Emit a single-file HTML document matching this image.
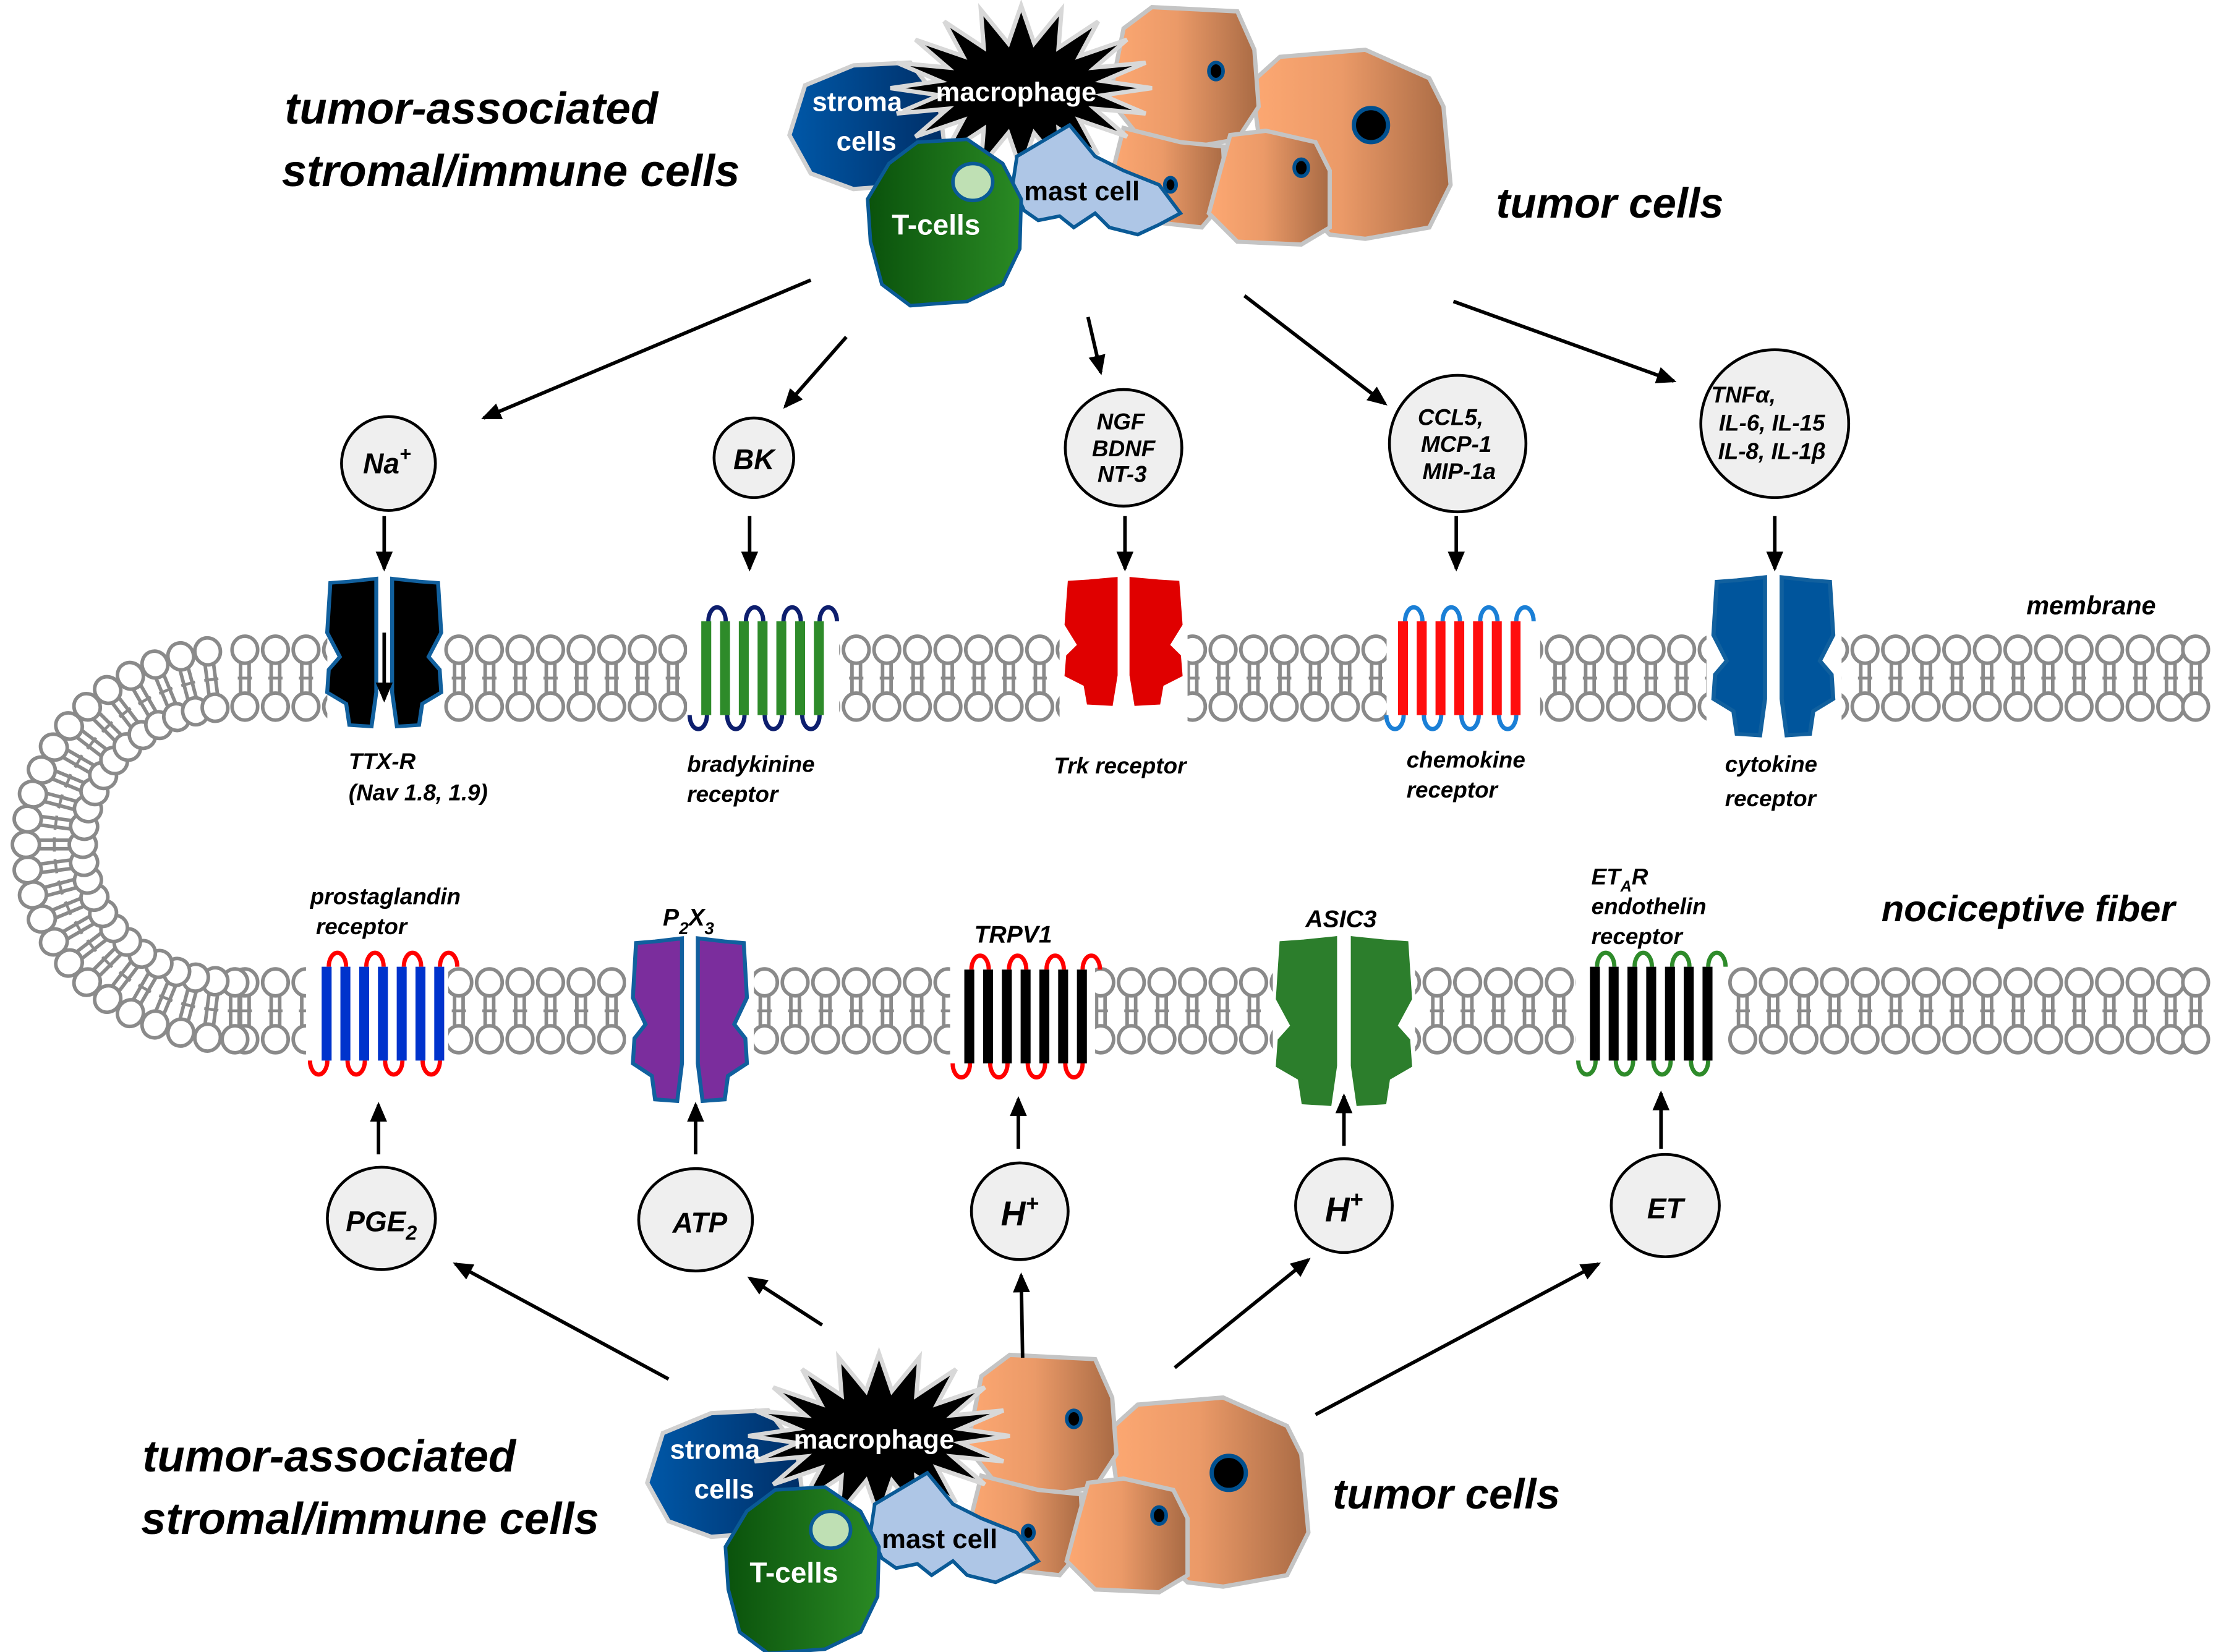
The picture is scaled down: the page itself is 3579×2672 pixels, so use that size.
<!DOCTYPE html>
<html><head><meta charset="utf-8">
<style>
html,body{margin:0;padding:0;background:#fff;}
svg{display:block;}
text{font-family:"Liberation Sans",sans-serif;}
.lab{font-weight:bold;font-style:italic;fill:#000;}
</style></head>
<body>
<svg width="3579" height="2672" viewBox="0 0 1556 1162" xmlns="http://www.w3.org/2000/svg">
<defs>
<linearGradient id="tum" x1="0" x2="1" y1="0" y2="0"><stop offset="0" stop-color="#fda872"/><stop offset="0.45" stop-color="#eb9a68"/><stop offset="1" stop-color="#a86a44"/></linearGradient>
<linearGradient id="str" x1="0" x2="1"><stop offset="0" stop-color="#0058a8"/><stop offset="1" stop-color="#002e66"/></linearGradient>
<linearGradient id="tc" x1="0" x2="1"><stop offset="0" stop-color="#0a520c"/><stop offset="1" stop-color="#2a8a24"/></linearGradient>
<marker id="ah2" markerWidth="14" markerHeight="12" refX="12" refY="6" orient="auto" markerUnits="userSpaceOnUse"><path d="M0,0 L14,6 L0,12 Z" fill="#000"/></marker>
<g id="lip" stroke="#8a8a8a" stroke-width="2.5" fill="#fff">
  <line x1="-3" y1="-11" x2="-3" y2="11"/><line x1="3" y1="-11" x2="3" y2="11"/>
  <line x1="-5" y1="0" x2="5" y2="0" stroke-width="2"/>
  <ellipse cx="0" cy="-20" rx="9" ry="9.5"/><ellipse cx="0" cy="20" rx="9" ry="9.5"/>
</g>
<path id="half" d="M-5,0 L-22,2 L-34,3 L-36,38 L-28,55 L-35,64 L-36,80 L-24,88 L-22,103 L-8,104 L-5,80 Z"/>
<g id="tmLoops" fill="none" stroke-width="3">
  <path d="M1,66 a6.1,9.8 0 0 1 -12.2,0"/><path d="M27.4,66 a6.1,9.8 0 0 1 -12.2,0"/>
  <path d="M53.8,66 a6.1,9.8 0 0 1 -12.2,0"/><path d="M80.2,66 a6.1,9.8 0 0 1 -12.2,0"/>
  <path d="M14.2,0 a6.1,9.8 0 0 0 -12.2,0"/><path d="M40.6,0 a6.1,9.8 0 0 0 -12.2,0"/>
  <path d="M67,0 a6.1,9.8 0 0 0 -12.2,0"/><path d="M80.2,0 a6.1,9.8 0 0 1 12.2,0"/>
</g>
<g id="tmBars">
  <rect x="-3" y="0" width="7" height="66"/><rect x="10.2" y="0" width="7" height="66"/>
  <rect x="23.4" y="0" width="7" height="66"/><rect x="36.6" y="0" width="7" height="66"/>
  <rect x="49.8" y="0" width="7" height="66"/><rect x="63" y="0" width="7" height="66"/>
  <rect x="76.2" y="0" width="7" height="66"/>
</g>
<g id="cluster">
  <path d="M880,58 L900,40 L960,35 L1005,55 L1015,75 L1020,130 L1005,160 L960,168 L935,165 L920,150 L900,120 L885,95 Z" fill="url(#tum)" stroke="#c4c4c4" stroke-width="3"/>
  <path d="M790,20 L810,5 L870,8 L882,35 L885,75 L870,98 L830,105 L800,95 L780,70 Z" fill="url(#tum)" stroke="#c4c4c4" stroke-width="3"/>
  <path d="M790,90 L830,100 L860,103 L862,140 L845,160 L800,155 L780,130 Z" fill="url(#tum)" stroke="#c4c4c4" stroke-width="3"/>
  <path d="M865,95 L890,92 L925,100 L935,120 L935,160 L915,172 L870,170 L850,150 L858,120 Z" fill="url(#tum)" stroke="#c4c4c4" stroke-width="3"/>
  <ellipse cx="964" cy="88" rx="12" ry="12" fill="#000" stroke="#00508f" stroke-width="3"/>
  <ellipse cx="855" cy="50" rx="5" ry="6" fill="#000" stroke="#00508f" stroke-width="2.5"/>
  <ellipse cx="915" cy="118" rx="5" ry="6" fill="#000" stroke="#00508f" stroke-width="2.5"/>
  <ellipse cx="823" cy="130" rx="4" ry="5" fill="#000" stroke="#00508f" stroke-width="2.5"/>
  <path d="M566,60 L600,46 L640,44 L660,70 L665,110 L640,130 L600,133 L570,122 L555,95 Z" fill="url(#str)" stroke="#d0d0d0" stroke-width="3"/>
  <polygon points="810,62 775.3,67 805.5,79.9 769.7,76.5 792.4,96.1 759,84.6 772.1,108.9 744.3,90.5 746.4,117.2 727.1,93.6 718,120 708.9,93.6 689.6,117.2 691.7,90.5 663.9,108.9 677,84.6 643.6,96.1 666.3,76.5 630.5,79.9 660.7,67 626,62 660.7,57 630.5,44.1 666.3,47.5 643.6,27.9 677,39.4 663.9,15.1 691.7,33.5 689.6,6.8 708.9,30.4 718,4 727.1,30.4 746.4,6.8 744.3,33.5 772.1,15.1 759,39.4 792.4,27.9 769.7,47.5 805.5,44.1 775.3,57" fill="#000" stroke="#d8d8d8" stroke-width="3"/>
  <path d="M752,88 L770,110 L790,120 L815,130 L830,150 L815,158 L800,165 L780,160 L770,150 L755,160 L745,152 L730,155 L720,148 L712,130 L715,110 Z" fill="#aec6e6" stroke="#0a5a96" stroke-width="2.5"/>
  <path d="M645,100 L680,98 L705,115 L718,140 L717,175 L705,200 L680,212 L640,215 L620,200 L612,170 L610,140 L625,115 Z" fill="url(#tc)" stroke="#0a5a96" stroke-width="2.5"/>
  <ellipse cx="684" cy="128" rx="14" ry="13" fill="#bfe0b4" stroke="#0a5a96" stroke-width="2.5"/>
  <text x="571" y="78" font-size="19" font-weight="bold" fill="#fff">stroma</text>
  <text x="588" y="106" font-size="19" font-weight="bold" fill="#fff">cells</text>
  <text x="658" y="71" font-size="19" font-weight="bold" fill="#fff">macrophage</text>
  <text x="720" y="141" font-size="19" font-weight="bold" fill="#000">mast cell</text>
  <text x="627" y="165" font-size="20" font-weight="bold" fill="#fff">T-cells</text>
</g>
</defs>

<!-- membrane straight bands -->
<g>
<use href="#lip" x="172" y="477"/><use href="#lip" x="193.5" y="477"/><use href="#lip" x="215" y="477"/><use href="#lip" x="236.5" y="477"/><use href="#lip" x="258" y="477"/><use href="#lip" x="279.5" y="477"/><use href="#lip" x="301" y="477"/><use href="#lip" x="322.5" y="477"/><use href="#lip" x="344" y="477"/><use href="#lip" x="365.5" y="477"/><use href="#lip" x="387" y="477"/><use href="#lip" x="408.5" y="477"/><use href="#lip" x="430" y="477"/><use href="#lip" x="451.5" y="477"/><use href="#lip" x="473" y="477"/><use href="#lip" x="494.5" y="477"/><use href="#lip" x="516" y="477"/><use href="#lip" x="537.5" y="477"/><use href="#lip" x="559" y="477"/><use href="#lip" x="580.5" y="477"/><use href="#lip" x="602" y="477"/><use href="#lip" x="623.5" y="477"/><use href="#lip" x="645" y="477"/><use href="#lip" x="666.5" y="477"/><use href="#lip" x="688" y="477"/><use href="#lip" x="709.5" y="477"/><use href="#lip" x="731" y="477"/><use href="#lip" x="752.5" y="477"/><use href="#lip" x="774" y="477"/><use href="#lip" x="795.5" y="477"/><use href="#lip" x="817" y="477"/><use href="#lip" x="838.5" y="477"/><use href="#lip" x="860" y="477"/><use href="#lip" x="881.5" y="477"/><use href="#lip" x="903" y="477"/><use href="#lip" x="924.5" y="477"/><use href="#lip" x="946" y="477"/><use href="#lip" x="967.5" y="477"/><use href="#lip" x="989" y="477"/><use href="#lip" x="1010.5" y="477"/><use href="#lip" x="1032" y="477"/><use href="#lip" x="1053.5" y="477"/><use href="#lip" x="1075" y="477"/><use href="#lip" x="1096.5" y="477"/><use href="#lip" x="1118" y="477"/><use href="#lip" x="1139.5" y="477"/><use href="#lip" x="1161" y="477"/><use href="#lip" x="1182.5" y="477"/><use href="#lip" x="1204" y="477"/><use href="#lip" x="1225.5" y="477"/><use href="#lip" x="1247" y="477"/><use href="#lip" x="1268.5" y="477"/><use href="#lip" x="1290" y="477"/><use href="#lip" x="1311.5" y="477"/><use href="#lip" x="1333" y="477"/><use href="#lip" x="1354.5" y="477"/><use href="#lip" x="1376" y="477"/><use href="#lip" x="1397.5" y="477"/><use href="#lip" x="1419" y="477"/><use href="#lip" x="1440.5" y="477"/><use href="#lip" x="1462" y="477"/><use href="#lip" x="1483.5" y="477"/><use href="#lip" x="1505" y="477"/><use href="#lip" x="1526.5" y="477"/><use href="#lip" x="1544" y="477"/>
<use href="#lip" x="172" y="711"/><use href="#lip" x="193.5" y="711"/><use href="#lip" x="215" y="711"/><use href="#lip" x="236.5" y="711"/><use href="#lip" x="258" y="711"/><use href="#lip" x="279.5" y="711"/><use href="#lip" x="301" y="711"/><use href="#lip" x="322.5" y="711"/><use href="#lip" x="344" y="711"/><use href="#lip" x="365.5" y="711"/><use href="#lip" x="387" y="711"/><use href="#lip" x="408.5" y="711"/><use href="#lip" x="430" y="711"/><use href="#lip" x="451.5" y="711"/><use href="#lip" x="473" y="711"/><use href="#lip" x="494.5" y="711"/><use href="#lip" x="516" y="711"/><use href="#lip" x="537.5" y="711"/><use href="#lip" x="559" y="711"/><use href="#lip" x="580.5" y="711"/><use href="#lip" x="602" y="711"/><use href="#lip" x="623.5" y="711"/><use href="#lip" x="645" y="711"/><use href="#lip" x="666.5" y="711"/><use href="#lip" x="688" y="711"/><use href="#lip" x="709.5" y="711"/><use href="#lip" x="731" y="711"/><use href="#lip" x="752.5" y="711"/><use href="#lip" x="774" y="711"/><use href="#lip" x="795.5" y="711"/><use href="#lip" x="817" y="711"/><use href="#lip" x="838.5" y="711"/><use href="#lip" x="860" y="711"/><use href="#lip" x="881.5" y="711"/><use href="#lip" x="903" y="711"/><use href="#lip" x="924.5" y="711"/><use href="#lip" x="946" y="711"/><use href="#lip" x="967.5" y="711"/><use href="#lip" x="989" y="711"/><use href="#lip" x="1010.5" y="711"/><use href="#lip" x="1032" y="711"/><use href="#lip" x="1053.5" y="711"/><use href="#lip" x="1075" y="711"/><use href="#lip" x="1096.5" y="711"/><use href="#lip" x="1118" y="711"/><use href="#lip" x="1139.5" y="711"/><use href="#lip" x="1161" y="711"/><use href="#lip" x="1182.5" y="711"/><use href="#lip" x="1204" y="711"/><use href="#lip" x="1225.5" y="711"/><use href="#lip" x="1247" y="711"/><use href="#lip" x="1268.5" y="711"/><use href="#lip" x="1290" y="711"/><use href="#lip" x="1311.5" y="711"/><use href="#lip" x="1333" y="711"/><use href="#lip" x="1354.5" y="711"/><use href="#lip" x="1376" y="711"/><use href="#lip" x="1397.5" y="711"/><use href="#lip" x="1419" y="711"/><use href="#lip" x="1440.5" y="711"/><use href="#lip" x="1462" y="711"/><use href="#lip" x="1483.5" y="711"/><use href="#lip" x="1505" y="711"/><use href="#lip" x="1526.5" y="711"/><use href="#lip" x="1544" y="711"/>
</g>
<!-- curved end -->
<g>
<use href="#lip" transform="translate(165,711) rotate(0)"/>
<use href="#lip" transform="translate(148.4,710) rotate(7.5)"/>
<use href="#lip" transform="translate(132.1,707) rotate(15)"/>
<use href="#lip" transform="translate(116.4,702.1) rotate(22.5)"/>
<use href="#lip" transform="translate(101.5,695.3) rotate(30)"/>
<use href="#lip" transform="translate(87.7,686.8) rotate(37.5)"/>
<use href="#lip" transform="translate(75.2,676.7) rotate(45)"/>
<use href="#lip" transform="translate(64.2,665.2) rotate(52.5)"/>
<use href="#lip" transform="translate(55,652.5) rotate(60)"/>
<use href="#lip" transform="translate(47.7,638.8) rotate(67.5)"/>
<use href="#lip" transform="translate(42.3,624.3) rotate(75)"/>
<use href="#lip" transform="translate(39.1,609.3) rotate(82.5)"/>
<use href="#lip" transform="translate(38,594) rotate(90)"/>
<use href="#lip" transform="translate(39.1,578.7) rotate(97.5)"/>
<use href="#lip" transform="translate(42.3,563.7) rotate(105)"/>
<use href="#lip" transform="translate(47.7,549.2) rotate(112.5)"/>
<use href="#lip" transform="translate(55,535.5) rotate(120)"/>
<use href="#lip" transform="translate(64.2,522.8) rotate(127.5)"/>
<use href="#lip" transform="translate(75.2,511.3) rotate(135)"/>
<use href="#lip" transform="translate(87.7,501.2) rotate(142.5)"/>
<use href="#lip" transform="translate(101.5,492.7) rotate(150)"/>
<use href="#lip" transform="translate(116.4,485.9) rotate(157.5)"/>
<use href="#lip" transform="translate(132.1,481) rotate(165)"/>
<use href="#lip" transform="translate(148.4,478) rotate(172.5)"/>
</g>
<!-- white masks behind receptors -->
<g fill="#fff">
<rect x="230" y="445" width="82" height="64"/><rect x="483" y="445" width="107" height="64"/><rect x="745" y="445" width="90" height="64"/><rect x="975" y="445" width="108" height="64"/><rect x="1200" y="445" width="95" height="64"/>
<rect x="215" y="679" width="100" height="64"/><rect x="440" y="679" width="90" height="64"/><rect x="668" y="679" width="102" height="64"/><rect x="895" y="679" width="100" height="64"/><rect x="1108" y="679" width="107" height="64"/>
</g>
<!-- channels -->
<g stroke="#11609e" stroke-width="2.5">
<g transform="translate(270,407)"><use href="#half" fill="#000" transform="scale(1.114,1)"/><use href="#half" fill="#000" transform="scale(-1.114,1)"/></g>
<g transform="translate(790,407)"><use href="#half" fill="#e00000" stroke="#e00000" transform="scale(1.114,0.85)"/><use href="#half" fill="#e00000" stroke="#e00000" transform="scale(-1.114,0.85)"/></g>
<g transform="translate(1247,406)"><use href="#half" fill="#00559c" transform="scale(1.17,1.07)"/><use href="#half" fill="#00559c" transform="scale(-1.17,1.07)"/></g>
<g transform="translate(485,660)"><use href="#half" fill="#7b2d9d" transform="scale(1.114,1.1)"/><use href="#half" fill="#7b2d9d" transform="scale(-1.114,1.1)"/></g>
<g transform="translate(945,660)"><use href="#half" fill="#2c7e2c" stroke="#2c7e2c" transform="scale(1.286,1.12)"/><use href="#half" fill="#2c7e2c" stroke="#2c7e2c" transform="scale(-1.286,1.12)"/></g>
</g>
<!-- 7TM receptors -->
<g transform="translate(496,437)"><use href="#tmLoops" stroke="#0d1e6e"/><use href="#tmBars" fill="#2e8b2a"/></g>
<g transform="translate(986,437)"><use href="#tmLoops" stroke="#1a7fd6"/><use href="#tmBars" fill="#ff0d0d"/></g>
<g transform="translate(229,680)"><use href="#tmLoops" stroke="#ff0000"/><use href="#tmBars" fill="#0033cc"/></g>
<g transform="translate(681,682)"><use href="#tmLoops" stroke="#ff0000"/><use href="#tmBars" fill="#000"/></g>
<g transform="translate(1121,680)"><use href="#tmLoops" stroke="#2e8b2a"/><use href="#tmBars" fill="#000"/></g>

<use href="#cluster"/>
<use href="#cluster" transform="translate(-100,948)"/>
<g>
<text x="200" y="87" font-size="31.5" class="lab">tumor-associated</text>
<text x="198" y="131" font-size="31.5" class="lab">stromal/immune cells</text>
<text x="1052" y="153" font-size="30" class="lab">tumor cells</text>
<text x="100" y="1035" font-size="31.5" class="lab">tumor-associated</text>
<text x="99" y="1079" font-size="31.5" class="lab">stromal/immune cells</text>
<text x="937" y="1061" font-size="30" class="lab">tumor cells</text>
<text x="1425" y="432" font-size="18" class="lab">membrane</text>
<text x="1323" y="648" font-size="26" class="lab">nociceptive fiber</text>
<text x="245" y="541" font-size="16" class="lab">TTX-R</text>
<text x="245" y="563" font-size="16" class="lab">(Nav 1.8, 1.9)</text>
<text x="483" y="543" font-size="16" class="lab">bradykinine</text>
<text x="483" y="564" font-size="16" class="lab">receptor</text>
<text x="741" y="544" font-size="16" class="lab">Trk receptor</text>
<text x="989" y="540" font-size="16" class="lab">chemokine</text>
<text x="989" y="561" font-size="16" class="lab">receptor</text>
<text x="1213" y="543" font-size="16" class="lab">cytokine</text>
<text x="1213" y="567" font-size="16" class="lab">receptor</text>
<text x="218" y="636" font-size="16" class="lab">prostaglandin</text>
<text x="222" y="657" font-size="16" class="lab">receptor</text>
<text x="466" y="651" font-size="17" class="lab">P<tspan font-size="12" dy="6">2</tspan><tspan dy="-6">X</tspan><tspan font-size="12" dy="6">3</tspan></text>
<text x="685" y="663" font-size="17" class="lab">TRPV1</text>
<text x="918" y="652" font-size="17" class="lab">ASIC3</text>
<text x="1119" y="622" font-size="16" class="lab">ET<tspan font-size="11" dy="5">A</tspan><tspan dy="-5">R</tspan></text>
<text x="1119" y="643" font-size="16" class="lab">endothelin</text>
<text x="1119" y="664" font-size="16" class="lab">receptor</text>
</g>
<g fill="#efefef" stroke="#000" stroke-width="2">
<circle cx="273" cy="326" r="33"/><circle cx="530" cy="322" r="28"/><circle cx="790" cy="315" r="41"/>
<circle cx="1025" cy="312" r="48"/><circle cx="1248" cy="298" r="52"/>
<ellipse cx="268" cy="857" rx="38" ry="36"/><ellipse cx="489" cy="858" rx="40" ry="36"/>
<ellipse cx="717" cy="852" rx="34" ry="34"/><ellipse cx="945" cy="848" rx="34" ry="33"/><ellipse cx="1171" cy="848" rx="38" ry="36"/>
</g>
<g text-anchor="middle">
<text x="272" y="333" font-size="20" class="lab">Na<tspan font-size="14" dy="-9">+</tspan></text>
<text x="530" y="330" font-size="20" class="lab">BK</text>
<text x="788" y="302" font-size="16" class="lab">NGF</text>
<text x="790" y="321" font-size="16" class="lab">BDNF</text>
<text x="789" y="339" font-size="16" class="lab">NT-3</text>
<text x="1020" y="299" font-size="16" class="lab">CCL5,</text>
<text x="1024" y="318" font-size="16" class="lab">MCP-1</text>
<text x="1026" y="337" font-size="16" class="lab">MIP-1a</text>
<text x="1226" y="283" font-size="16" class="lab">TNFα,</text>
<text x="1246" y="303" font-size="16" class="lab">IL-6, IL-15</text>
<text x="1246" y="323" font-size="16" class="lab">IL-8, IL-1β</text>
<text x="268" y="866" font-size="20" class="lab">PGE<tspan font-size="14" dy="6">2</tspan></text>
<text x="492" y="867" font-size="20" class="lab">ATP</text>
<text x="717" y="862" font-size="24" class="lab">H<tspan font-size="16" dy="-10">+</tspan></text>
<text x="945" y="859" font-size="24" class="lab">H<tspan font-size="16" dy="-10">+</tspan></text>
<text x="1171" y="857" font-size="20" class="lab">ET</text>
</g>
<g stroke="#000" stroke-width="2.5" fill="none">
<line x1="570" y1="197" x2="340" y2="294" marker-end="url(#ah2)"/>
<line x1="595" y1="237" x2="552" y2="286" marker-end="url(#ah2)"/>
<line x1="765" y1="223" x2="774" y2="262" marker-end="url(#ah2)"/>
<line x1="875" y1="208" x2="974" y2="284" marker-end="url(#ah2)"/>
<line x1="1022" y1="212" x2="1177" y2="268" marker-end="url(#ah2)"/>
<line x1="270" y1="363" x2="270" y2="400" marker-end="url(#ah2)"/>
<line x1="527" y1="363" x2="527" y2="400" marker-end="url(#ah2)"/>
<line x1="791" y1="363" x2="791" y2="400" marker-end="url(#ah2)"/>
<line x1="1024" y1="363" x2="1024" y2="400" marker-end="url(#ah2)"/>
<line x1="1248" y1="363" x2="1248" y2="400" marker-end="url(#ah2)"/>
<line x1="270" y1="445" x2="270" y2="492" marker-end="url(#ah2)" stroke="#fff" stroke-width="1"/>
<line x1="270" y1="445" x2="270" y2="492" marker-end="url(#ah2)"/>
<line x1="266" y1="812" x2="266" y2="777" marker-end="url(#ah2)"/>
<line x1="489" y1="812" x2="489" y2="777" marker-end="url(#ah2)"/>
<line x1="716" y1="808" x2="716" y2="773" marker-end="url(#ah2)"/>
<line x1="945" y1="806" x2="945" y2="771" marker-end="url(#ah2)"/>
<line x1="1168" y1="808" x2="1168" y2="769" marker-end="url(#ah2)"/>
<line x1="470" y1="970" x2="320" y2="889" marker-end="url(#ah2)"/>
<line x1="578" y1="932" x2="527" y2="899" marker-end="url(#ah2)"/>
<line x1="719" y1="955" x2="718" y2="897" marker-end="url(#ah2)"/>
<line x1="826" y1="962" x2="920" y2="886" marker-end="url(#ah2)"/>
<line x1="925" y1="995" x2="1124" y2="889" marker-end="url(#ah2)"/>
</g>
</svg>
</body></html>
